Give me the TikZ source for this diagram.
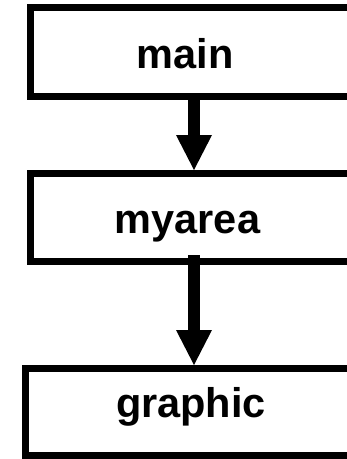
\documentclass[tikz,border=0pt]{standalone}
\usepackage{fontspec}
\setmainfont{Liberation Sans}
\usetikzlibrary{arrows.meta}
\begin{document}
\begin{tikzpicture}[x=1pt,y=-1pt,
  box/.style={draw=black, line width=7pt, rectangle, inner sep=0pt, outer sep=3.5pt},
  lbl/.style={font=\fontsize{41.5}{41.5}\selectfont\bfseries, anchor=base, inner sep=0pt},
  flow/.style={line width=12pt, -{Triangle[width=36pt,length=35pt,line width=0pt]}}]
\clip (0,0) rectangle (347,459);
\node[box, minimum width=390pt, minimum height=89pt, anchor=north west] (mainbox) at (27,4) {};
\node[box, minimum width=390pt, minimum height=88pt, anchor=north west] (myareabox) at (27,170) {};
\node[box, minimum width=390pt, minimum height=87pt, anchor=north west] (graphicbox) at (22,365) {};
\node[lbl] (maintxt) at (185,68) {main};
\node[lbl] (myareatxt) at (187.5,233) {myarea};
\node[lbl] (graphictxt) at (191,417) {graphic};
\coordinate (ax) at (194,0);
\draw[flow] (mainbox.south -| ax) -- (myareabox.north -| ax);
\draw[flow] ([yshift=10pt]myareabox.south -| ax) -- (graphicbox.north -| ax);
\end{tikzpicture}
\end{document}
